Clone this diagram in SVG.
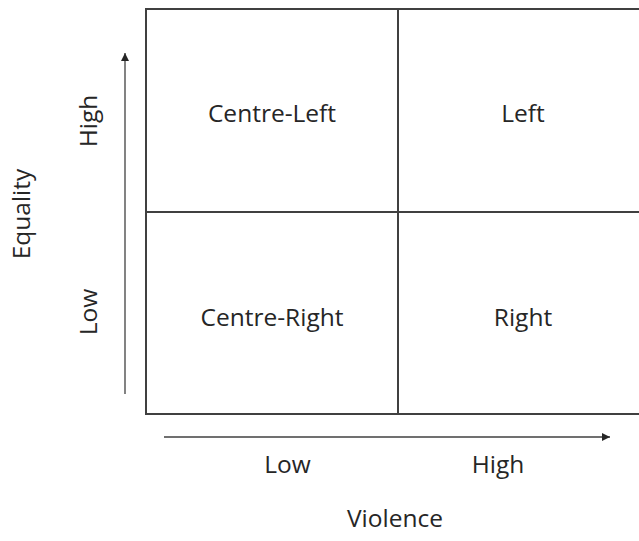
<svg xmlns="http://www.w3.org/2000/svg" width="639" height="541" viewBox="0 0 639 541">
<style>
.grid{stroke:#404040;stroke-width:2;fill:none}
.ax{stroke:#404040;stroke-width:1.3;fill:none}
text{font-family:"Open Sans","Noto Sans","Liberation Sans",sans-serif;font-size:24.5px;fill:#262626;text-anchor:middle}
</style>
<defs>
<marker id="ah" viewBox="0 0 10 10" refX="10" refY="5" markerWidth="8" markerHeight="8" markerUnits="userSpaceOnUse" orient="auto">
<path d="M0,0 L10,5 L0,10 z" fill="#262626"/>
</marker>
</defs>
<g id="grid">
<path class="grid" d="M639,9 H146 V414 H639 M398,9 V414 M146,212 H639"/>
</g>
<g id="connectors">
<line class="ax" x1="125" y1="394" x2="125" y2="53" marker-end="url(#ah)"/>
<line class="ax" x1="164" y1="437" x2="610" y2="437" marker-end="url(#ah)"/>
</g>
<g id="centre-left"><text x="272" y="122">Centre-Left</text></g>
<g id="left"><text x="523" y="122">Left</text></g>
<g id="centre-right"><text x="272" y="326">Centre-Right</text></g>
<g id="right"><text x="523" y="326">Right</text></g>
<g id="x-labels">
<text x="287.5" y="473">Low</text>
<text x="498" y="473">High</text>
<text x="395" y="527">Violence</text>
</g>
<g id="y-labels">
<text transform="translate(97,121) rotate(-90)">High</text>
<text transform="translate(97,312) rotate(-90)">Low</text>
<text transform="translate(30,214) rotate(-90)">Equality</text>
</g>
</svg>
